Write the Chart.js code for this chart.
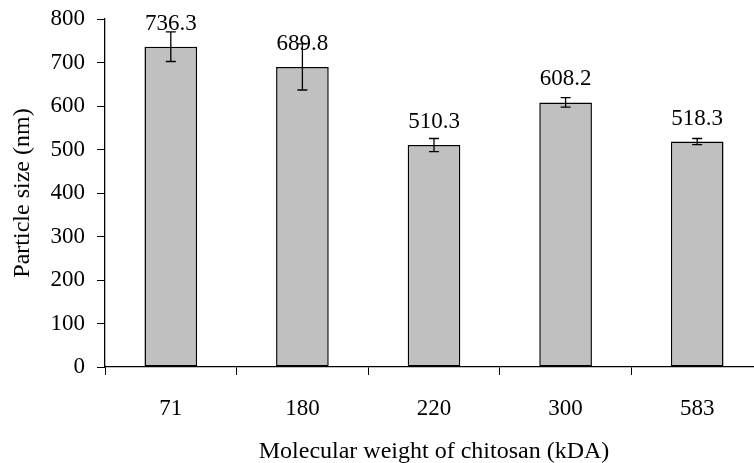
<!DOCTYPE html>
<html>
<head>
<meta charset="utf-8">
<script src="https://cdn.jsdelivr.net/npm/chart.js@4"></script>
<style>
  body { margin: 0; overflow: hidden; background: #fff; }
  #wrap { width: 770px; height: 463px; }
</style>
</head>
<body>
<div id="wrap"><canvas id="myChart" width="770" height="463"></canvas></div>
<script>
var labels = ['71', '180', '220', '300', '583'];
var sizes = [736.3, 689.8, 510.3, 608.2, 518.3];
var errors = [34, 53, 15, 11, 7];
var yTicks = [0, 100, 200, 300, 400, 500, 600, 700, 800];

var serif = 'Liberation Serif, Times New Roman, serif';

// error bars + value labels on top of the bars
var extras = {
    id: 'extras',
    afterDatasetsDraw: function(chart) {
        var ctx = chart.ctx;
        var x = chart.scales.x, y = chart.scales.y;
        var meta = chart.getDatasetMeta(0);
        ctx.save();
        ctx.strokeStyle = '#000';
        ctx.lineWidth = 1.3;
        for (var i = 0; i < sizes.length; i++) {
            var cx = x.getPixelForValue(i);
            var hi = y.getPixelForValue(sizes[i] + errors[i]);
            var lo = y.getPixelForValue(sizes[i] - errors[i]);
            ctx.beginPath();
            ctx.moveTo(cx, hi); ctx.lineTo(cx, lo);
            ctx.moveTo(cx - 5, hi); ctx.lineTo(cx + 5, hi);
            ctx.moveTo(cx - 5, lo); ctx.lineTo(cx + 5, lo);
            ctx.stroke();
        }
        ctx.fillStyle = '#000';
        ctx.font = '23px ' + serif;
        ctx.textAlign = 'center';
        ctx.textBaseline = 'middle';
        for (var j = 0; j < sizes.length; j++) {
            var bar = meta.data[j];
            ctx.fillText(sizes[j].toFixed(1), bar.x, bar.y - 23);
        }
        ctx.restore();
    }
};

new Chart('myChart', {
    type: 'bar',
    data: {
        labels: labels,
        datasets: [{
            data: sizes,
            backgroundColor: '#c0c0c0',
            borderColor: '#000',
            borderWidth: 1.5,
            borderSkipped: false,
            barPercentage: 0.4,
            categoryPercentage: 1
        }]
    },
    options: {
        responsive: false,
        animation: false,
        layout: { padding: { top: 19, right: 7, left: 0, bottom: 0 } },
        plugins: {
            legend: { display: false },
            tooltip: { enabled: false }
        },
        scales: {
            x: {
                offset: true,
                grid: {
                    offset: true,
                    drawOnChartArea: false,
                    drawTicks: true,
                    tickLength: 8,
                    color: '#000'
                },
                border: { color: '#000', width: 1.3 },
                ticks: {
                    color: '#000',
                    padding: 20,
                    maxRotation: 0,
                    font: { family: serif, size: 23 }
                },
                title: {
                    display: true,
                    text: 'Molecular weight of chitosan (kDA)',
                    color: '#000',
                    padding: { top: 0, bottom: -3 },
                    font: { family: serif, size: 24 }
                },
                afterFit: function(scale) {
                    scale.height = 96;
                    scale.paddingLeft = 0;
                    scale.paddingRight = 0;
                }
            },
            y: {
                min: 0,
                max: 800,
                afterBuildTicks: function(scale) {
                    scale.ticks = yTicks.map(function(v) { return { value: v }; });
                },
                grid: {
                    drawOnChartArea: false,
                    tickLength: 8,
                    color: '#000'
                },
                border: { color: '#000', width: 1.3 },
                ticks: {
                    color: '#000',
                    padding: 12,
                    font: { family: serif, size: 23 }
                },
                title: {
                    display: true,
                    text: 'Particle size (nm)',
                    color: '#000',
                    padding: { top: 8, bottom: 0 },
                    font: { family: serif, size: 24 }
                },
                afterFit: function(scale) {
                    scale.width = 105;
                    scale.paddingTop = 0;
                    scale.paddingBottom = 0;
                }
            }
        }
    },
    plugins: [extras]
});
</script>
</body>
</html>
